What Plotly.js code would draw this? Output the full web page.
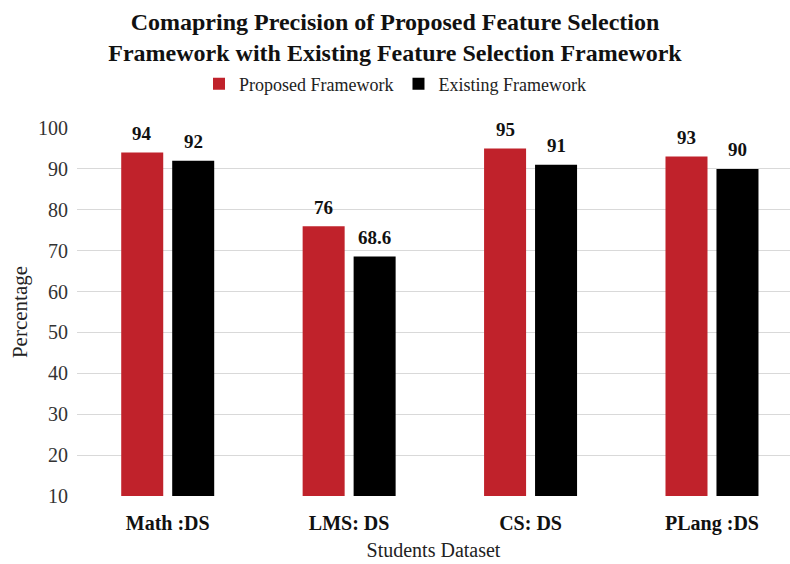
<!DOCTYPE html>
<html>
<head>
<meta charset="utf-8">
<script src="https://cdn.plot.ly/plotly-3.0.1.min.js"></script>
<style>html,body{margin:0;padding:0;background:#fff;}#chart{width:790px;height:564px;}</style>
</head>
<body>
<div id="chart"></div>
<script>
const categories = ["Math :DS", "LMS: DS", "CS: DS", "PLang :DS"];
const proposed = [94, 76, 95, 93];
const existing = [92, 68.6, 91, 90];
const seriesNames = ["Proposed Framework", "Existing Framework"];
const yTicks = [10, 20, 30, 40, 50, 60, 70, 80, 90, 100];

const serif = "Liberation Serif, Times New Roman, serif";
const RED = "#C0222B";
const BLACK = "#000000";
const LABEL_DX = 25.5;

const traces = [
  {type: "bar", name: seriesNames[0], x: categories, y: proposed, marker: {color: RED}, hoverinfo: "skip"},
  {type: "bar", name: seriesNames[1], x: categories, y: existing, marker: {color: BLACK}, hoverinfo: "skip"}
];

const annotations = [];
[proposed, existing].forEach((vals, s) => {
  vals.forEach((v, i) => {
    annotations.push({
      x: categories[i], y: v, xref: "x", yref: "y",
      text: String(v), showarrow: false,
      xanchor: "center", yanchor: "middle",
      xshift: s === 0 ? -LABEL_DX : LABEL_DX, yshift: 19,
      font: {family: serif, size: 19, color: "#111", weight: "bold"}
    });
  });
});

const layout = {
  width: 790, height: 564,
  margin: {l: 77, r: 0, t: 128, b: 68},
  paper_bgcolor: "#fff", plot_bgcolor: "#fff",
  barmode: "group", bargap: 0.438, bargroupgap: 0.176,
  title: {
    text: "Comapring Precision of Proposed Feature Selection<br>Framework with Existing Feature Selection Framework",
    font: {family: serif, size: 24, color: "#111", weight: "bold"},
    x: 0.5, xref: "container", xanchor: "center",
    y: 1 - 30/564, yref: "container", yanchor: "middle"
  },
  showlegend: true,
  legend: {
    orientation: "h", xref: "container", x: 0.5, xanchor: "center",
    yref: "container", y: 1 - 84/564, yanchor: "middle",
    font: {family: serif, size: 18, color: "#222"},
    itemwidth: 30, traceorder: "normal"
  },
  xaxis: {
    type: "category", range: [-0.5, 3.43],
    showgrid: false, zeroline: false, showline: false,
    ticks: "outside", ticklen: 9, tickcolor: "rgba(0,0,0,0)",
    tickfont: {family: serif, size: 20, color: "#111", weight: "bold"},
    title: {text: "Students Dataset", font: {family: serif, size: 20, color: "#222"}, standoff: 8}
  },
  yaxis: {
    range: [10, 100], tickvals: yTicks, ticktext: yTicks.map(String),
    showgrid: true, gridcolor: "#d9d9d9", gridwidth: 1,
    zeroline: false, showline: false,
    ticks: "outside", ticklen: 4, tickcolor: "rgba(0,0,0,0)",
    tickfont: {family: serif, size: 20, color: "#333"},
    title: {text: "Percentage", font: {family: serif, size: 21, color: "#222"}, standoff: 4}
  },
  annotations: annotations
};

Plotly.newPlot("chart", traces, layout, {displayModeBar: false, staticPlot: true});
</script>
</body>
</html>
